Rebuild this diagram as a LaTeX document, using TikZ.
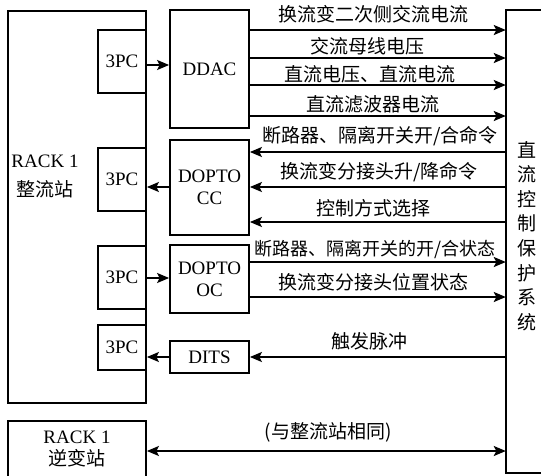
\documentclass[tikz,border=0pt]{standalone}
\usepackage{fontspec}
\setmainfont{Liberation Serif}
\newfontfamily\cjk{Noto Sans CJK SC}
\usetikzlibrary{arrows.meta}
\begin{document}
\begin{tikzpicture}[x=1pt,y=-1pt,
  box/.style={draw, line width=1.8pt, inner sep=0pt, align=center, font=\fontsize{19}{22}\selectfont},
  lab/.style={inner sep=0pt, font=\fontsize{19}{22}\selectfont\cjk},
  arr/.style={line width=1.8pt, -{Stealth[length=12pt,width=10pt,inset=2.5pt]}},
  darr/.style={line width=1.8pt, {Stealth[length=12pt,width=10pt,inset=2.5pt]}-{Stealth[length=12pt,width=10pt,inset=2.5pt]}}]
\useasboundingbox (0,0) rectangle (541,475);
\clip (0,0) rectangle (541,475);
\fill[white] (0,0) rectangle (541,475);
% racks
\node[box, minimum width=138pt, minimum height=392pt] (rack) at (77,207) {};
\node[inner sep=0pt, align=center, font=\fontsize{19}{29}\selectfont] (racktext) at (45,176) {RACK 1\\{\cjk 整流站}};
\node[box, minimum width=138pt, minimum height=58pt] (inv) at (77,450) {};
\node[inner sep=0pt, align=center, font=\fontsize{19}{22}\selectfont] (invtext) at (77,449) {RACK 1\\{\cjk 逆变站}};
% 3PC boxes
\node[box, minimum width=48pt, minimum height=63pt] (p1) at (122,61.5) {3PC};
\node[box, minimum width=48pt, minimum height=63pt] (p2) at (122,179.5) {3PC};
\node[box, minimum width=48pt, minimum height=63pt] (p3) at (122,277.5) {3PC};
\node[box, minimum width=48pt, minimum height=45pt] (p4) at (122,347.5) {3PC};
% modules
\node[box, minimum width=79pt, minimum height=118pt] (ddac) at (209.5,69) {DDAC};
\node[box, minimum width=79pt, minimum height=95pt] (cc) at (209.5,187.5) {DOPTO\\CC};
\node[box, minimum width=79pt, minimum height=68pt] (oc) at (209.5,279) {DOPTO\\OC};
\node[box, minimum width=79pt, minimum height=32pt] (dits) at (209.5,357) {DITS};
% control box (right, partly cut off)
\node[inner sep=0pt, minimum width=42pt, minimum height=463pt] (ctrl) at (527,241.5) {};
\draw[line width=1.8pt] (ctrl.north east) -- (ctrl.north west) -- (ctrl.south west) -- (ctrl.south east);
\node[inner sep=0pt, align=center, font=\fontsize{19}{24.6}\selectfont\cjk] (ctrltext) at (527,236) {直\\流\\控\\制\\保\\护\\系\\统};
% 3PC <-> modules
\draw[arr] (p1.east |- 0,65) -- (ddac.west |- 0,65);
\draw[arr] (cc.west |- 0,187) -- (p2.east |- 0,187);
\draw[arr] (p3.east |- 0,278) -- (oc.west |- 0,278);
\draw[arr] (dits.west |- 0,357) -- (p4.east |- 0,357);
% modules <-> control
\draw[arr] (ddac.east |- 0,30) -- (ctrl.west |- 0,30);
\draw[arr] (ddac.east |- 0,58) -- (ctrl.west |- 0,58);
\draw[arr] (ddac.east |- 0,85) -- (ctrl.west |- 0,85);
\draw[arr] (ddac.east |- 0,116) -- (ctrl.west |- 0,116);
\draw[arr] (ctrl.west |- 0,152) -- (cc.east |- 0,152);
\draw[arr] (ctrl.west |- 0,187) -- (cc.east |- 0,187);
\draw[arr] (ctrl.west |- 0,222) -- (cc.east |- 0,222);
\draw[arr] (oc.east |- 0,262) -- (ctrl.west |- 0,262);
\draw[arr] (oc.east |- 0,297) -- (ctrl.west |- 0,297);
\draw[arr] (ctrl.west |- 0,357) -- (dits.east |- 0,357);
\draw[darr] (inv.east |- 0,451) -- (ctrl.west |- 0,451);
% labels
\node[lab] (l1) at (373,14) {换流变二次侧交流电流};
\node[lab] (l2) at (367,46) {交流母线电压};
\node[lab] (l3) at (370,74) {直流电压、直流电流};
\node[lab] (l4) at (373,104) {直流滤波器电流};
\node[lab] (l5) at (380,136) {断路器、隔离开关开/合命令};
\node[lab] (l6) at (379,172) {换流变分接头升/降命令};
\node[lab] (l7) at (373,208) {控制方式选择};
\node[lab, font=\fontsize{18}{22}\selectfont\cjk] (l8) at (375,249) {断路器、隔离开关的开/合状态};
\node[lab] (l9) at (373,282) {换流变分接头位置状态};
\node[lab] (l10) at (369,341) {触发脉冲};
\node[lab] (l11) at (328,432) {(与整流站相同)};
\end{tikzpicture}
\end{document}
